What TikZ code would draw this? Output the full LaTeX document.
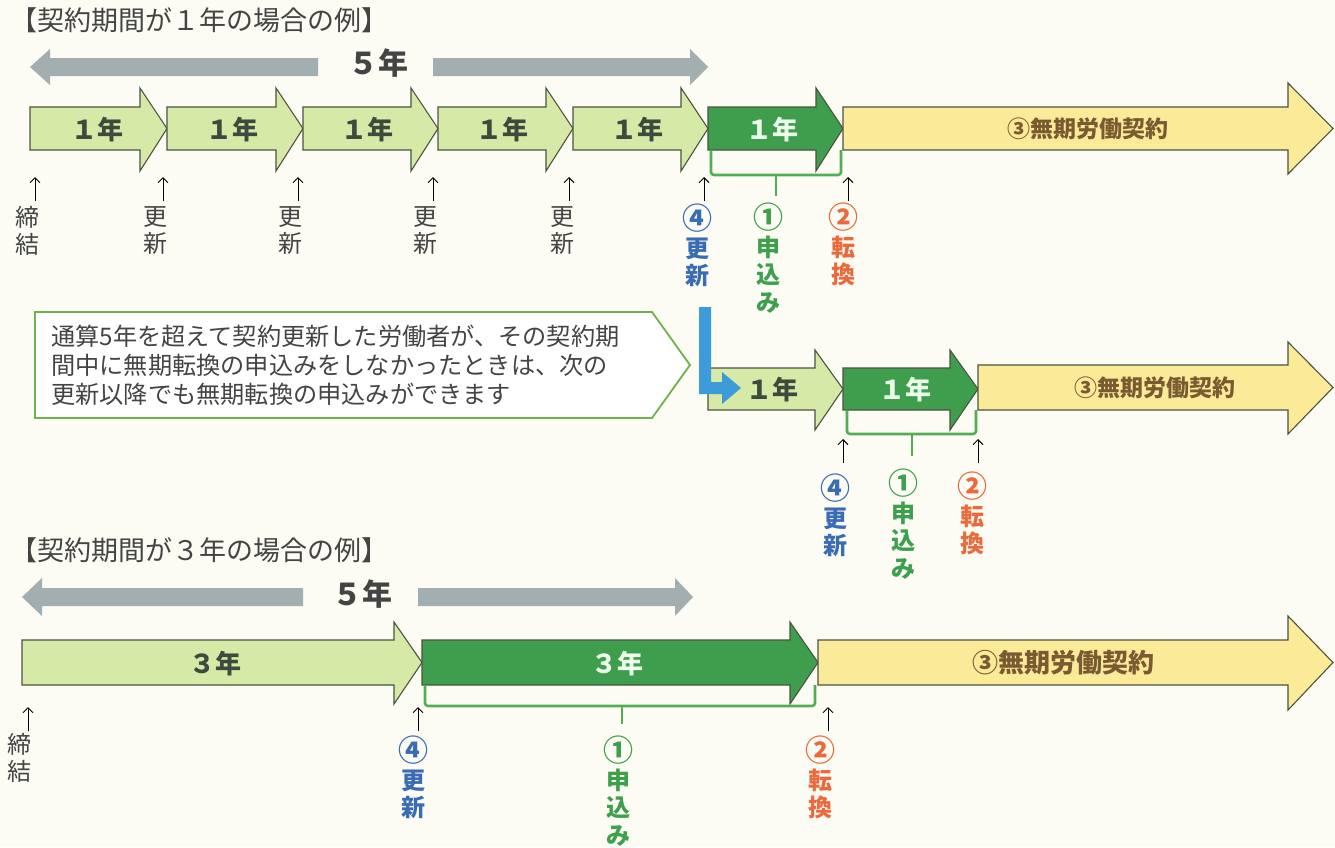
\documentclass[tikz,border=0pt]{standalone}
\usepackage{fontspec}
\newfontfamily\jp{Noto Sans CJK JP}
\usetikzlibrary{arrows.meta}
\definecolor{bg}{HTML}{FCFBF4}
\definecolor{lg}{HTML}{D6E9A6}
\definecolor{dg}{HTML}{3F9D4E}
\definecolor{yl}{HTML}{FBEA98}
\definecolor{edge}{HTML}{4A5440}
\definecolor{gr}{HTML}{A3AEB0}
\definecolor{txt}{HTML}{3E4A3E}
\definecolor{brn}{HTML}{7A5A30}
\definecolor{blu}{HTML}{3A6CB4}
\definecolor{grn}{HTML}{3DA04C}
\definecolor{org}{HTML}{EA6A3C}
\definecolor{brk}{HTML}{52AE55}
\definecolor{bluebar}{HTML}{3C9BD8}
\definecolor{cedge}{HTML}{72B04E}
\definecolor{dark}{HTML}{444444}
% style, left, base, tip, bodytop, bodybot, headtop, headbot
\newcommand\blockarrow[8]{\draw[#1] (#2,#5) -- (#3,#5) -- (#3,#7) -- (#4,{(#5+#6)/2}) -- (#3,#8) -- (#3,#6) -- (#2,#6) -- cycle;}
\newcommand\cnum[1]{{\fontsize{30}{27}\selectfont #1}}
\tikzset{
  lightarr/.style={fill=lg, draw=edge, line width=1.1},
  darkarr/.style={fill=dg, draw=edge, line width=1.1},
  yellowarr/.style={fill=yl, draw=edge, line width=1.1},
  grayarr/.style={fill=gr, draw=none},
  yrlab/.style={font=\jp\bfseries\fontsize{26}{28}\selectfont, text=txt, inner sep=0},
  yrdark/.style={font=\jp\bfseries\fontsize{26}{28}\selectfont, text=white!92!green, inner sep=0},
  perm/.style={font=\jp\bfseries\fontsize{23}{26}\selectfont, text=brn, inner sep=0},
  fiveyr/.style={font=\jp\bfseries\fontsize{30}{32}\selectfont, text=dark, inner sep=0},
  title/.style={font=\jp\fontsize{27}{30}\selectfont, text=dark, inner sep=0, anchor=west},
  vlab/.style={anchor=north, align=center, inner sep=0, font=\jp\fontsize{24}{27.5}\selectfont, text=dark},
  vblue/.style={vlab, font=\jp\bfseries\fontsize{24}{27.5}\selectfont, text=blu},
  vgreen/.style={vlab, font=\jp\bfseries\fontsize{24}{27.5}\selectfont, text=grn},
  vorange/.style={vlab, font=\jp\bfseries\fontsize{24}{27.5}\selectfont, text=org},
  uparr/.style={draw=black, line width=0.9, -{Straight Barb[length=5,width=10]}},
  brace/.style={draw=brk, line width=2.6, rounded corners=3},
}
\begin{document}
\begin{tikzpicture}[x=1pt,y=-1pt]
\useasboundingbox (0,0) rectangle (1335,847);
\fill[bg] (0,0) rectangle (1335,847);

% ---------- Example 1 ----------
\node[title] (t1) at (10,20) {【契約期間が１年の場合の例】};
% gray 5-year double arrow
\fill[grayarr] (30,67) -- (50,49) -- (50,58) -- (318,58) -- (318,76) -- (50,76) -- (50,85) -- cycle;
\fill[grayarr] (708,67) -- (690,49) -- (690,58) -- (433,58) -- (433,76) -- (690,76) -- (690,85) -- cycle;
\node[fiveyr] (f1) at (378,63) {５年};

% arrows
\blockarrow{lightarr}{30}{140}{167}{107}{150}{88}{171}
\blockarrow{lightarr}{167}{276}{303}{107}{150}{88}{171}
\blockarrow{lightarr}{303}{411}{438}{107}{150}{88}{171}
\blockarrow{lightarr}{438}{546}{573}{107}{150}{88}{171}
\blockarrow{lightarr}{573}{681}{708}{107}{150}{88}{171}
\blockarrow{darkarr}{708}{816}{843}{107}{150}{88}{171}
\blockarrow{yellowarr}{843}{1288}{1333}{107}{150}{83}{174}
\node[yrlab] (a1) at (97,130) {１年};
\node[yrlab] (a2) at (232,130) {１年};
\node[yrlab] (a3) at (367,130) {１年};
\node[yrlab] (a4) at (502,130) {１年};
\node[yrlab] (a5) at (637,130) {１年};
\node[yrdark] (a6) at (772,130) {１年};
\node[perm] (p1) at (1088,129) {③無期労働契約};

% brace
\draw[brace] (711,150) -- (711,175) -- (841,175) -- (841,150);
\draw[brace] (776,175) -- (776,196);

% up arrows
\foreach \x/\n in {35/u1,163/u2,298/u3,433/u4,569/u5,704/u6,848/u7}{
  \coordinate (\n s) at (\x,201); \coordinate (\n e) at (\x,177);
  \draw[uparr] (\n s) -- (\n e);
}
\node[vlab] (l1) at (27,206) {締\\結};
\node[vlab] (l2) at (155,206) {更\\新};
\node[vlab] (l3) at (290,206) {更\\新};
\node[vlab] (l4) at (425,206) {更\\新};
\node[vlab] (l5) at (562,206) {更\\新};
\node[vblue] (l6) at (697,204) {\cnum{④}\\更\\新};
\node[vgreen] (l7) at (768,203) {\cnum{①}\\申\\込\\み};
\node[vorange] (l8) at (843,203) {\cnum{②}\\転\\換};

% callout
\draw[draw=cedge, fill=white, line width=1.8] (35,312) -- (652,312) -- (690,365) -- (652,418) -- (35,418) -- cycle;
\node[anchor=north west, align=left, inner sep=0, font=\jp\fontsize{24.2}{29}\selectfont, text=dark] (c1) at (51,325)
  {通算5年を超えて契約更新した労働者が、その契約期\\間中に無期転換の申込みをしなかったときは、次の\\更新以降でも無期転換の申込みができます};

% ---------- Second line ----------
\blockarrow{lightarr}{708}{815}{843}{368}{410}{350}{430}
\blockarrow{darkarr}{843}{950}{978}{368}{410}{350}{430}
\blockarrow{yellowarr}{978}{1288}{1333}{365}{410}{342}{434}
% blue L arrow
\fill[bluebar] (699,307) -- (711,307) -- (711,382) -- (722,382) -- (722,372) -- (741,388) -- (722,404) -- (722,394) -- (699,394) -- cycle;
\node[yrlab] (b1) at (772,390) {１年};
\node[yrdark] (b2) at (905,390) {１年};
\node[perm] (p2) at (1155,388) {③無期労働契約};
\draw[brace] (847,410) -- (847,434) -- (976,434) -- (976,410);
\draw[brace] (912,434) -- (912,456);
\foreach \x/\n in {843/v1,978/v2}{
  \coordinate (\n s) at (\x,463); \coordinate (\n e) at (\x,439);
  \draw[uparr] (\n s) -- (\n e);
}
\node[vblue] (m1) at (835,474) {\cnum{④}\\更\\新};
\node[vgreen] (m2) at (903,469) {\cnum{①}\\申\\込\\み};
\node[vorange] (m3) at (972,472) {\cnum{②}\\転\\換};

% ---------- Example 2 ----------
\node[title] (t2) at (10,550) {【契約期間が３年の場合の例】};
\fill[grayarr] (22,597) -- (42,578) -- (42,588) -- (303,588) -- (303,606) -- (42,606) -- (42,616) -- cycle;
\fill[grayarr] (693,597) -- (675,578) -- (675,588) -- (418,588) -- (418,606) -- (675,606) -- (675,616) -- cycle;
\node[fiveyr] (f2) at (362,594) {５年};

\blockarrow{lightarr}{22}{394}{422}{640}{685}{622}{704}
\blockarrow{darkarr}{422}{790}{818}{640}{685}{622}{704}
\blockarrow{yellowarr}{818}{1288}{1333}{640}{685}{616}{710}
\node[yrlab] (c3) at (215,664) {３年};
\node[yrdark] (c4) at (617,664) {３年};
\node[perm, font=\jp\bfseries\fontsize{26}{28}\selectfont] (p3) at (1063,663) {③無期労働契約};
\draw[brace] (425,685) -- (425,706) -- (815,706) -- (815,685);
\draw[brace] (622,706) -- (622,724);
\foreach \x/\n in {28/w1,418/w2,828/w3}{
  \coordinate (\n s) at (\x,731); \coordinate (\n e) at (\x,707);
  \draw[uparr] (\n s) -- (\n e);
}
\node[vlab] (n1) at (20,733) {締\\結};
\node[vblue] (n2) at (413,736) {\cnum{④}\\更\\新};
\node[vgreen] (n3) at (618,736) {\cnum{①}\\申\\込\\み};
\node[vorange] (n4) at (820,736) {\cnum{②}\\転\\換};
\end{tikzpicture}
\end{document}
